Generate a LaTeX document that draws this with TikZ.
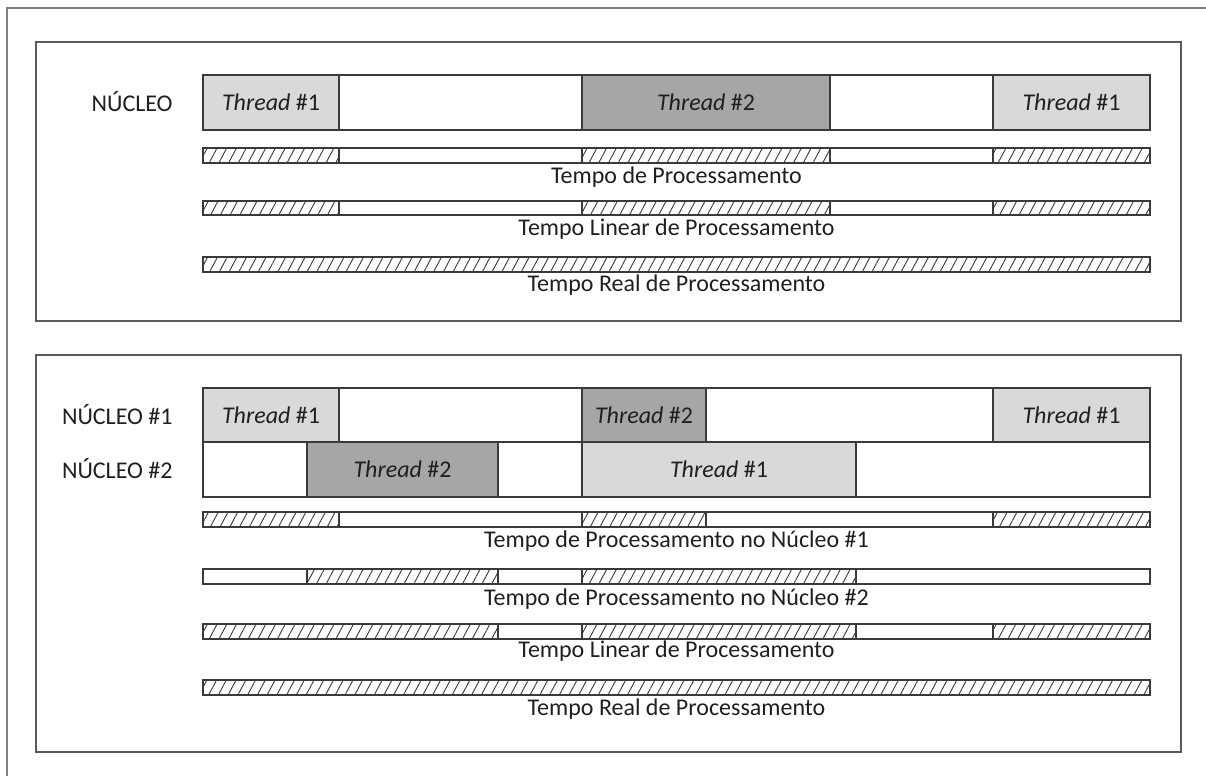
\documentclass[tikz,border=0pt]{standalone}
\usepackage{fontspec}
\setmainfont{Carlito}
\usetikzlibrary{patterns.meta}
\definecolor{lg}{HTML}{D9D9D9}
\definecolor{dg}{HTML}{A6A6A6}
\definecolor{ln}{HTML}{3A3A3A}
\definecolor{fr}{HTML}{808080}
\definecolor{bx}{HTML}{5A5A5A}
\tikzset{
  seg/.style={draw=ln, line width=0.7pt},
  light/.style={seg, fill=lg},
  dark/.style={seg, fill=dg},
  blank/.style={seg, fill=white},
  hatch/.style={seg, pattern={Lines[angle=62,distance=4.3pt,line width=0.45pt]}, pattern color=ln},
  lbl/.style={font=\fontsize{12}{14}\selectfont, text=black!88, inner sep=0pt},
  panel/.style={draw=bx, line width=0.75pt},
  outer/.style={draw=fr, line width=0.8pt}
}
\newcommand\segbox[5]{\path[#5] (#1,#3) rectangle (#2,#4);}
\begin{document}
\begin{tikzpicture}[x=0.5pt,y=-0.5pt]
\useasboundingbox (0,0) rectangle (1206,776);
% outer frame (top and left visible)
\draw[outer] (1206,8) -- (7,8) -- (7,776);
% panels
\draw[panel] (36,42) rectangle (1181,321);
\draw[panel] (36,355) rectangle (1181,752);

% ---------- Panel 1 ----------
\node[lbl, anchor=east] (n0) at (173,102) {NÚCLEO};
\segbox{203}{339}{75}{130}{light}
\segbox{339}{582}{75}{130}{blank}
\segbox{582}{830}{75}{130}{dark}
\segbox{830}{993}{75}{130}{blank}
\segbox{993}{1150}{75}{130}{light}
\node[lbl] (p1t1) at (271,102) {\textit{Thread} \#1};
\node[lbl] (p1t2) at (706,102) {\textit{Thread} \#2};
\node[lbl] (p1t3) at (1071.5,102) {\textit{Thread} \#1};

% bar: processamento
\segbox{203}{339}{148}{163}{hatch}
\segbox{339}{582}{148}{163}{blank}
\segbox{582}{830}{148}{163}{hatch}
\segbox{830}{993}{148}{163}{blank}
\segbox{993}{1150}{148}{163}{hatch}
\node[lbl] (p1l1) at (676.5,177) {Tempo de Processamento};
% bar: linear
\segbox{203}{339}{201}{215}{hatch}
\segbox{339}{582}{201}{215}{blank}
\segbox{582}{830}{201}{215}{hatch}
\segbox{830}{993}{201}{215}{blank}
\segbox{993}{1150}{201}{215}{hatch}
\node[lbl] (p1l2) at (676.5,229) {Tempo Linear de Processamento};
% bar: real
\segbox{203}{1150}{257}{272}{hatch}
\node[lbl] (p1l3) at (676.5,285) {Tempo Real de Processamento};

% ---------- Panel 2 ----------
\node[lbl, anchor=east] (n1) at (173,415) {NÚCLEO \#1};
\node[lbl, anchor=east] (n2) at (173,469) {NÚCLEO \#2};
% row 1
\segbox{203}{339}{388}{442}{light}
\segbox{339}{582}{388}{442}{blank}
\segbox{582}{706}{388}{442}{dark}
\segbox{706}{993}{388}{442}{blank}
\segbox{993}{1150}{388}{442}{light}
\node[lbl] (r1t1) at (271,415) {\textit{Thread} \#1};
\node[lbl] (r1t2) at (644,415) {\textit{Thread} \#2};
\node[lbl] (r1t3) at (1071.5,415) {\textit{Thread} \#1};
% row 2
\segbox{203}{307}{442}{497}{blank}
\segbox{307}{498}{442}{497}{dark}
\segbox{498}{582}{442}{497}{blank}
\segbox{582}{856}{442}{497}{light}
\segbox{856}{1150}{442}{497}{blank}
\node[lbl] (r2t1) at (402.5,469) {\textit{Thread} \#2};
\node[lbl] (r2t2) at (719,469) {\textit{Thread} \#1};

% bar: nucleo 1
\segbox{203}{339}{512}{527}{hatch}
\segbox{339}{582}{512}{527}{blank}
\segbox{582}{706}{512}{527}{hatch}
\segbox{706}{993}{512}{527}{blank}
\segbox{993}{1150}{512}{527}{hatch}
\node[lbl] (p2l1) at (676.5,541) {Tempo de Processamento no Núcleo \#1};
% bar: nucleo 2
\segbox{203}{307}{569}{584}{blank}
\segbox{307}{498}{569}{584}{hatch}
\segbox{498}{582}{569}{584}{blank}
\segbox{582}{856}{569}{584}{hatch}
\segbox{856}{1150}{569}{584}{blank}
\node[lbl] (p2l2) at (676.5,599) {Tempo de Processamento no Núcleo \#2};
% bar: linear
\segbox{203}{498}{624}{639}{hatch}
\segbox{498}{582}{624}{639}{blank}
\segbox{582}{856}{624}{639}{hatch}
\segbox{856}{993}{624}{639}{blank}
\segbox{993}{1150}{624}{639}{hatch}
\node[lbl] (p2l3) at (676.5,651) {Tempo Linear de Processamento};
% bar: real
\segbox{203}{1150}{680}{695}{hatch}
\node[lbl] (p2l4) at (676.5,709) {Tempo Real de Processamento};
\end{tikzpicture}
\end{document}
